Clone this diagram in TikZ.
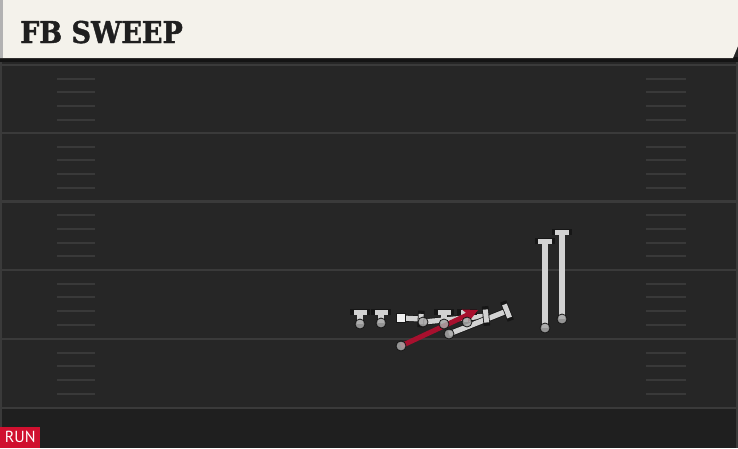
\documentclass[tikz,border=0pt]{standalone}
\usepackage{fontspec}
\newfontfamily\titlefont{DejaVu Serif Condensed}[FakeBold=1.4]
\newfontfamily\tagfont{PT Sans}
\usetikzlibrary{calc,arrows.meta}
\definecolor{fieldc}{HTML}{262626}
\definecolor{fieldlow}{HTML}{1F1F1F}
\definecolor{yardc}{HTML}{3A3A3A}
\definecolor{hashc}{HTML}{393939}
\definecolor{creamc}{HTML}{F4F2EB}
\definecolor{linegray}{HTML}{D2D2D2}
\definecolor{circgray}{HTML}{A8A8A8}
\definecolor{outl}{HTML}{161616}
\definecolor{routered}{HTML}{A8102E}
\definecolor{tagred}{HTML}{D0102F}
\pgfdeclarelayer{fieldlayer}
\pgfdeclarelayer{bg}
\pgfdeclarelayer{mid}
\pgfsetlayers{fieldlayer,bg,mid,main}
\tikzset{
  yard/.style={draw=yardc, line width=2.2pt},
  hashmark/.style={draw=hashc, line width=2pt},
  player/.style={circle, fill=circgray, draw=outl, line width=0.8pt, minimum size=10pt, inner sep=0pt, fill opacity=0.85},
  center/.style={rectangle, fill=white!94!black, draw=outl, line width=0.8pt, minimum size=9pt, inner sep=0pt},
  blockline/.style={draw=linegray, line width=5.2pt, preaction={draw=outl, line width=6.8pt}},
  blockbar/.style={draw=linegray, line width=5pt, line cap=butt, preaction={draw=outl, line width=6.6pt, line cap=rect}},
  runroute/.style={draw=routered, line width=5pt, -{Stealth[length=14pt,width=14pt,inset=3pt]}},
}
\begin{document}
\begin{tikzpicture}[x=1pt,y=-1pt]
\useasboundingbox (0,0) rectangle (738,448);
\begin{pgfonlayer}{fieldlayer}
  \fill[fieldc] (0,0) rectangle (738,448);
  \fill[fieldlow] (0,409) rectangle (738,448);
  \foreach \y in {65,133,201.5,270,339,408} \draw[yard] (2,\y) -- (736,\y);
  \foreach \b in {65,133,201.5,270,339}
    \foreach \k in {1,2,3,4} {
      \pgfmathtruncatemacro{\hy}{\b+\k*13.7+0.5}
      \draw[hashmark] (57,\hy) -- (95,\hy);
      \draw[hashmark] (646,\hy) -- (686,\hy);
    }
  \draw[draw=yardc, line width=1.5pt] (1,60) -- (1,448);
  \draw[draw=yardc, line width=1.5pt] (737,60) -- (737,448);
  % header
  \fill[black!92] (0,57) rectangle (738,62);
  \fill[creamc] (0,0) -- (738,0) -- (738,46) -- (733,58) -- (0,58) -- cycle;
  \fill[black!30] (0,0) rectangle (3,58);
\end{pgfonlayer}
\node[anchor=base west, inner sep=0pt, font=\titlefont\bfseries\fontsize{30}{32}\selectfont, text=black!88] (title) at (20,43) {FB SWEEP};
\node[anchor=south west, fill=tagred, text=white, inner sep=0pt, minimum width=40pt, minimum height=21pt, font=\tagfont\fontsize{16}{18}\selectfont] (tag) at (0,448) {RUN};

% players
\node[player] (lt) at (360,324) {};
\node[player] (lg) at (381,323) {};
\node[center] (c) at (401,318) {};
\node[player] (rg) at (423,322) {};
\node[player] (rt) at (444,324) {};
\node[player] (te) at (467,322) {};
\node[player] (wg) at (449,334) {};
\node[player] (fb) at (401,346) {};
\node[player] (wra) at (545,328) {};
\node[player] (wrb) at (562,319) {};

% block end points
\coordinate (ltE) at (360,312);
\coordinate (lgE) at (381,312);
\coordinate (cE) at (421,319);
\coordinate (rgE) at (486,316);
\coordinate (rtE) at (444,312);
\coordinate (teE) at (467,312);
\coordinate (wgE) at (507,311);
\coordinate (wraE) at (545,241);
\coordinate (wrbE) at (562,232);
\coordinate (fbE) at (478,310);

\begin{pgfonlayer}{bg}
  \foreach \p in {lt,lg,c,rg,rt,te,wg,wra,wrb} {
    \draw[blockline] (\p.center) -- (\p E);
  }
  \foreach \p/\w in {lt/6.5,lg/6.5,c/5,rg/6.5,rt/6.5,te/6.5,wg/7,wra/7,wrb/7} {
    \draw[blockbar] ($(\p E)!\w pt!90:(\p.center)$) -- ($(\p E)!\w pt!-90:(\p.center)$);
  }
\end{pgfonlayer}
\begin{pgfonlayer}{mid}
  \draw[runroute] (fb.center) -- (fbE);
\end{pgfonlayer}
\end{tikzpicture}
\end{document}
